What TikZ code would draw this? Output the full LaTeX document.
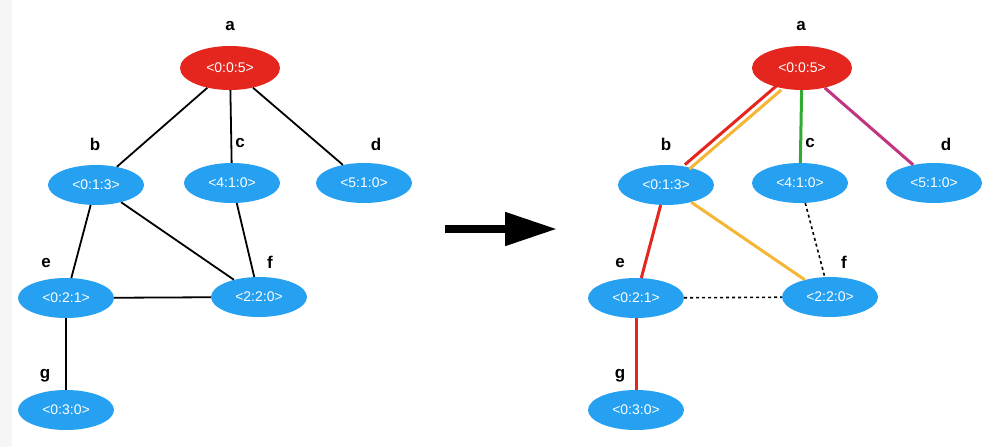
\documentclass[tikz,border=0pt]{standalone}
\usepackage{fontspec}
\setmainfont{Liberation Sans}
\usepackage{tikz}
\usetikzlibrary{shapes.geometric,arrows.meta}
\definecolor{nodeblue}{RGB}{38,160,240}
\definecolor{rootred}{RGB}{228,38,30}
\definecolor{pathorange}{RGB}{244,182,52}
\definecolor{pathgreen}{RGB}{48,170,48}
\definecolor{pathpink}{RGB}{192,52,128}
\definecolor{stripgray}{RGB}{246,246,246}
\begin{document}
\begin{tikzpicture}[x=1pt,y=-1pt]
                \tikzstyle{every node}+=[inner sep=0pt]
                \tikzstyle{vert}=[ellipse,fill=nodeblue,minimum width=96pt,minimum height=40pt,text=white,font=\fontsize{14}{16}\selectfont]
                \tikzstyle{rootvert}=[vert,fill=rootred,minimum width=100pt,minimum height=44pt]
                \tikzstyle{lbl}=[font=\fontsize{17}{19}\selectfont\bfseries]
                \tikzstyle{edge}=[black,line width=1.8pt]
                \tikzstyle{hot}=[line width=3pt]
                \tikzstyle{cut}=[black,line width=1.6pt,dash pattern=on 3pt off 3pt]
                \useasboundingbox (0,0) rectangle (993,447);
                \fill [white] (0,0) rectangle (993,447);
                \fill [stripgray] (0,0) rectangle (12,447);
                % left graph
                \node [rootvert] (a) at (230,68) {<0:0:5>};
                \node [vert] (b) at (96,185) {<0:1:3>};
                \node [vert] (c) at (232,183) {<4:1:0>};
                \node [vert] (d) at (364,183) {<5:1:0>};
                \node [vert] (e) at (66,298) {<0:2:1>};
                \node [vert] (f) at (259,297) {<2:2:0>};
                \node [vert] (g) at (66,410) {<0:3:0>};
                \node [lbl] (la) at (230,26) {a};
                \node [lbl] (lb) at (95,144) {b};
                \node [lbl] (lc) at (240,143) {c};
                \node [lbl] (ld) at (376,144) {d};
                \node [lbl] (le) at (46,263) {e};
                \node [lbl] (lf) at (270,262) {f};
                \node [lbl] (lg) at (45,376) {g};
                \draw [edge] (a) -- (b);
                \draw [edge] (a) -- (c);
                \draw [edge] (a) -- (d);
                \draw [edge] (b) -- (e);
                \draw [edge] (b) -- (f);
                \draw [edge] (c) -- (f);
                \draw [edge] (e) -- (f);
                \draw [edge] (e) -- (g);
                % arrow
                \coordinate (from) at (445,229);
                \coordinate (to) at (557,229);
                \draw [line width=8pt,-{Triangle[length=52pt,width=32pt]}] (from) -- (to);
                % right graph
                \node [rootvert] (ra) at (802,68) {<0:0:5>};
                \node [vert] (rb) at (666,185) {<0:1:3>};
                \node [vert] (rc) at (800,183) {<4:1:0>};
                \node [vert] (rd) at (934,183) {<5:1:0>};
                \node [vert] (re) at (636,298) {<0:2:1>};
                \node [vert] (rf) at (830,297) {<2:2:0>};
                \node [vert] (rg) at (636,410) {<0:3:0>};
                \node [lbl] (rla) at (801,26) {a};
                \node [lbl] (rlb) at (666,144) {b};
                \node [lbl] (rlc) at (810,143) {c};
                \node [lbl] (rld) at (946,144) {d};
                \node [lbl] (rle) at (620,263) {e};
                \node [lbl] (rlf) at (844,262) {f};
                \node [lbl] (rlg) at (620,376) {g};
                \draw [hot,rootred,transform canvas={xshift=-2.2pt,yshift=2.2pt}] (ra) -- (rb);
                \draw [hot,pathorange,transform canvas={xshift=2.2pt,yshift=-2.2pt}] (ra) -- (rb);
                \draw [hot,pathgreen] (ra) -- (rc);
                \draw [hot,pathpink] (ra) -- (rd);
                \draw [hot,rootred] (rb) -- (re);
                \draw [hot,pathorange] (rb) -- (rf);
                \draw [hot,rootred] (re) -- (rg);
                \draw [cut] (rc) -- (rf);
                \draw [cut] (re) -- (rf);
\end{tikzpicture}
\end{document}
